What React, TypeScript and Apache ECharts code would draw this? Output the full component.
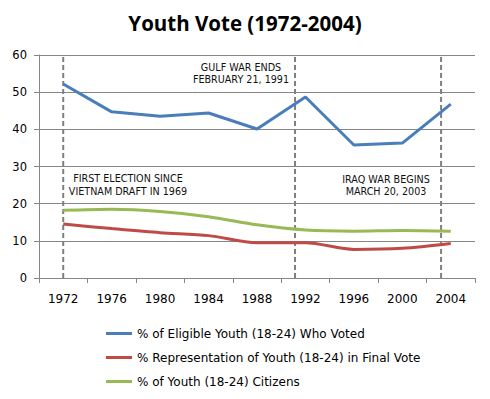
import React, { useEffect, useRef } from "react";
import * as echarts from "echarts";

const years = ["1972", "1976", "1980", "1984", "1988", "1992", "1996", "2000", "2004"];
const votedPct = [52.2, 44.7, 43.5, 44.4, 40.1, 48.7, 35.8, 36.3, 46.8];
const representationPct = [14.5, 13.3, 12.2, 11.4, 9.5, 9.5, 7.7, 8.0, 9.3];
const citizensPct = [18.2, 18.5, 17.9, 16.5, 14.3, 12.9, 12.6, 12.8, 12.6];
const seriesNames = [
  "% of Eligible Youth (18-24) Who Voted",
  "% Representation of Youth (18-24) in Final Vote",
  "% of Youth (18-24) Citizens",
];
const eventYears = [1972, 1991.14, 2003.2];

const App: React.FC = () => {
  const ref = useRef<HTMLDivElement>(null);
  useEffect(() => {
    document.body.style.margin = "0";
    if (!ref.current) return;
    const chart = echarts.init(ref.current, undefined, { renderer: "svg" });
    const font = "DejaVu Sans";
    const eventSeries = eventYears.map((y) => ({
      type: "line",
      xAxisIndex: 1,
      data: [
        [y, 0],
        [y, 60],
      ],
      showSymbol: false,
      symbol: "none",
      silent: true,
      lineStyle: { color: "#7f7f7f", width: 2, type: [5, 3] },
      z: 1,
    }));
    const noteStyle = {
      fontFamily: font,
      fontSize: 9.6,
      lineHeight: 12.5,
      fill: "#111",
      align: "center",
      verticalAlign: "middle",
    };
    chart.setOption({
      animation: false,
      backgroundColor: "#ffffff",
      title: {
        text: "Youth Vote (1972-2004)",
        left: "center",
        top: 7,
        textStyle: { fontFamily: "Open Sans", fontWeight: "bold", fontSize: 20.5, color: "#000" },
      },
      grid: { left: 39, right: 15, top: 55, bottom: 121 },
      legend: {
        orient: "vertical",
        left: 101,
        top: 321,
        itemGap: 9,
        itemWidth: 26,
        itemHeight: 3,
        icon: "rect",
        data: seriesNames,
        textStyle: { fontFamily: font, fontSize: 12, lineHeight: 15, color: "#000" },
      },
      xAxis: [
        {
          type: "category",
          data: years,
          boundaryGap: true,
          axisLine: { lineStyle: { color: "#868686", width: 1 } },
          axisTick: { show: true, length: 5, lineStyle: { color: "#868686" } },
          axisLabel: { fontFamily: font, fontSize: 12, color: "#000", margin: 15 },
        },
        {
          type: "value",
          min: 1970,
          max: 2006,
          show: false,
        },
      ],
      yAxis: {
        type: "value",
        min: 0,
        max: 60,
        interval: 10,
        axisLine: { show: true, lineStyle: { color: "#868686" } },
        axisTick: { show: true, length: 5, inside: false, lineStyle: { color: "#868686" } },
        splitLine: { lineStyle: { color: "#868686", width: 1 } },
        axisLabel: { fontFamily: font, fontSize: 11.5, color: "#000", margin: 12 },
      },
      series: [
        ...eventSeries,
        {
          name: seriesNames[0],
          type: "line",
          data: votedPct,
          symbol: "none",
          lineStyle: { color: "#4a7ebb", width: 3 },
          itemStyle: { color: "#4a7ebb" },
          z: 3,
        },
        {
          name: seriesNames[1],
          type: "line",
          data: representationPct,
          symbol: "none",
          smooth: 0.3,
          lineStyle: { color: "#be4b48", width: 3 },
          itemStyle: { color: "#be4b48" },
          z: 3,
        },
        {
          name: seriesNames[2],
          type: "line",
          data: citizensPct,
          symbol: "none",
          smooth: 0.3,
          lineStyle: { color: "#98b954", width: 3 },
          itemStyle: { color: "#98b954" },
          z: 3,
        },
      ],
      graphic: [
        {
          type: "text",
          x: 128,
          y: 185,
          style: { ...noteStyle, text: "FIRST ELECTION SINCE\nVIETNAM DRAFT IN 1969" },
          z: 10,
        },
        {
          type: "text",
          x: 241,
          y: 73.5,
          style: { ...noteStyle, text: "GULF WAR ENDS\nFEBRUARY 21, 1991" },
          z: 10,
        },
        {
          type: "text",
          x: 386,
          y: 185.5,
          style: { ...noteStyle, text: "IRAQ WAR BEGINS\nMARCH 20, 2003" },
          z: 10,
        },
      ],
    });
    return () => chart.dispose();
  }, []);
  return <div ref={ref} style={{ width: 490, height: 399 }} />;
};

export default App;
